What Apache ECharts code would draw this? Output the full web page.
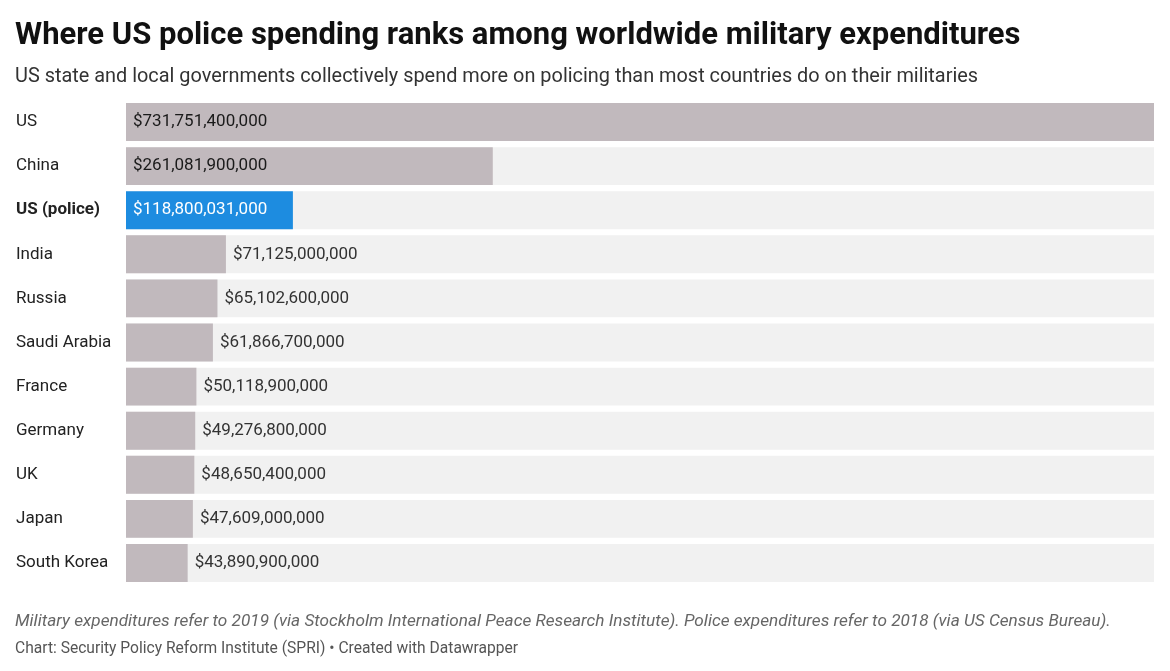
<!DOCTYPE html>
<html>
<head>
<meta charset="utf-8">
<script src="https://cdn.jsdelivr.net/npm/echarts@6/dist/echarts.min.js"></script>
<style>
  html, body { margin: 0; padding: 0; background: #fff; }
  #chart { width: 1170px; height: 671px; }
</style>
</head>
<body>
<div id="chart"></div>
<script>
// categories and values, top to bottom
var countries = ['US', 'China', 'US (police)', 'India', 'Russia', 'Saudi Arabia',
    'France', 'Germany', 'UK', 'Japan', 'South Korea'];
var spending = [731751400000, 261081900000, 118800031000, 71125000000, 65102600000,
    61866700000, 50118900000, 49276800000, 48650400000, 47609000000, 43890900000];
var highlight = 'US (police)';
// labels drawn inside the bar for the three biggest
var insideLabels = ['US', 'China', 'US (police)'];

var chart = echarts.init(document.getElementById('chart'));

function money(v) {
    return '$' + v.toLocaleString('en-US');
}

var barData = countries.map(function (c, i) {
    var isHi = c === highlight;
    var inside = insideLabels.indexOf(c) >= 0;
    return {
        value: spending[i],
        itemStyle: { color: isHi ? '#1d8ce0' : '#c1b9bd' },
        label: {
            position: inside ? 'insideLeft' : 'right',
            distance: 7,
            color: isHi ? '#ffffff' : (inside ? '#1a1a1a' : '#333333')
        }
    };
});

var option = {
    animation: false,
    textStyle: { fontFamily: 'Roboto' },
    title: [{
        text: 'Where US police spending ranks among worldwide military expenditures',
        left: 15, top: 21, padding: 0,
        textStyle: { fontSize: 31, fontWeight: 'bold', color: '#111', fontFamily: 'Roboto' }
    }, {
        text: 'US state and local governments collectively spend more on policing than most countries do on their militaries',
        left: 15, top: 67, padding: 0,
        textStyle: { fontSize: 19.9, fontWeight: 'normal', color: '#333', fontFamily: 'Roboto' }
    }, {
        text: 'Military expenditures refer to 2019 (via Stockholm International Peace Research Institute). Police expenditures refer to 2018 (via US Census Bureau).',
        left: 15, top: 613, padding: 0,
        textStyle: { fontSize: 17.2, fontWeight: 'normal', fontStyle: 'italic', color: '#666', fontFamily: 'Roboto' }
    }, {
        text: 'Chart: Security Policy Reform Institute (SPRI) • Created with Datawrapper',
        left: 15, top: 641, padding: 0,
        textStyle: { fontSize: 15.6, fontWeight: 'normal', color: '#555', fontFamily: 'Roboto' }
    }],
    grid: { left: 126, right: 16, top: 100, height: 485 },
    xAxis: {
        type: 'value',
        min: 0,
        max: spending[0],
        show: false
    },
    yAxis: {
        type: 'category',
        data: countries,
        inverse: true,
        axisLine: { show: false },
        axisTick: { show: false },
        axisLabel: {
            align: 'left',
            margin: 110,
            fontSize: 17,
            color: '#222',
            formatter: function (v) {
                return v === highlight ? '{b|' + v + '}' : v;
            },
            rich: {
                b: { fontWeight: 'bold', fontSize: 17, color: '#222', fontFamily: 'Roboto' }
            }
        }
    },
    series: [{
        type: 'bar',
        data: barData,
        barCategoryGap: '14%',
        showBackground: true,
        backgroundStyle: { color: '#f1f1f1' },
        label: {
            show: true,
            fontSize: 17,
            fontFamily: 'Roboto',
            formatter: function (p) { return money(p.value); }
        }
    }]
};

chart.setOption(option);
</script>
</body>
</html>
